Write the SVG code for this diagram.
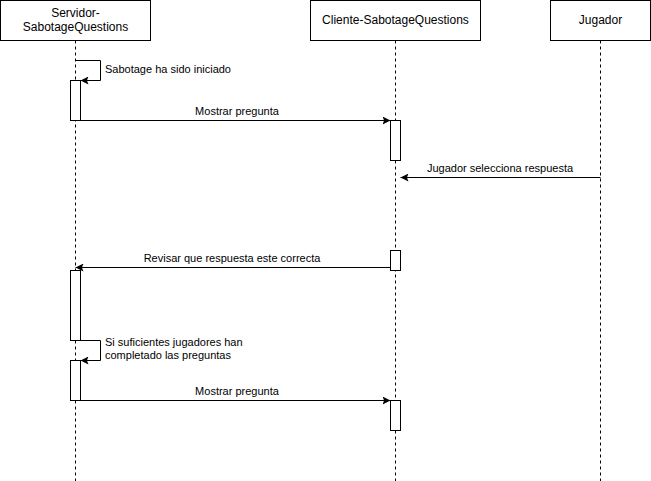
<svg xmlns="http://www.w3.org/2000/svg" width="651" height="481" viewBox="0 0 651 481">
<style>
.box{fill:#fff;stroke:#000;stroke-width:1}
.life{stroke:#000;stroke-dasharray:3 3;fill:none}
.msg{stroke:#000;fill:none}
.hdr{font-family:"Liberation Sans",Arial,sans-serif;font-size:12px;fill:#000;text-anchor:middle}
.lbl{font-family:"Liberation Sans",Arial,sans-serif;font-size:11px;fill:#000}
</style>
<defs>
<marker id="arr" viewBox="0 0 10 10" refX="10" refY="5" markerWidth="8" markerHeight="8" markerUnits="userSpaceOnUse" orient="auto">
<path d="M0,0 L10,5 L0,10 L2,5 Z" fill="#000"/>
</marker>
</defs>
<g id="servidor">
<rect class="box" x="0.5" y="0.5" width="150" height="40"/>
<text class="hdr" x="75.5" y="17">Servidor-</text>
<text class="hdr" x="75.5" y="31">SabotageQuestions</text>
<line class="life" x1="75.5" y1="40.5" x2="75.5" y2="481"/>
<rect class="box" x="70.5" y="80.5" width="10" height="40"/>
<rect class="box" x="70.5" y="270.5" width="10" height="70"/>
<rect class="box" x="70.5" y="360.5" width="10" height="40"/>
</g>
<g id="cliente">
<rect class="box" x="310.5" y="0.5" width="170" height="40"/>
<text class="hdr" x="395.5" y="24">Cliente-SabotageQuestions</text>
<line class="life" x1="395.5" y1="40.5" x2="395.5" y2="481"/>
<rect class="box" x="390.5" y="120.5" width="10" height="40"/>
<rect class="box" x="390.5" y="250.5" width="10" height="20"/>
<rect class="box" x="390.5" y="400.5" width="10" height="30"/>
</g>
<g id="jugador">
<rect class="box" x="550.5" y="0.5" width="100" height="40"/>
<text class="hdr" x="600.5" y="24">Jugador</text>
<line class="life" x1="600.5" y1="40.5" x2="600.5" y2="481"/>
</g>
<g id="connectors">
<path class="msg" d="M75.5,60.5 H100.5 V80.5 H80.5" marker-end="url(#arr)"/>
<text class="lbl" x="105" y="73">Sabotage ha sido iniciado</text>
<line class="msg" x1="80.5" y1="120.5" x2="390.5" y2="120.5" marker-end="url(#arr)"/>
<text class="lbl" x="237" y="115" text-anchor="middle">Mostrar pregunta</text>
<line class="msg" x1="600.5" y1="177.5" x2="400.5" y2="177.5" marker-end="url(#arr)"/>
<text class="lbl" x="500" y="172" text-anchor="middle">Jugador selecciona respuesta</text>
<line class="msg" x1="390.5" y1="267.5" x2="75.5" y2="267.5" marker-end="url(#arr)"/>
<text class="lbl" x="232" y="262" text-anchor="middle">Revisar que respuesta este correcta</text>
<path class="msg" d="M80.5,340.5 H100.5 V360.5 H80.5" marker-end="url(#arr)"/>
<text class="lbl" x="105" y="346">Si suficientes jugadores han</text>
<text class="lbl" x="105" y="359">completado las preguntas</text>
<line class="msg" x1="80.5" y1="400.5" x2="390.5" y2="400.5" marker-end="url(#arr)"/>
<text class="lbl" x="237" y="395" text-anchor="middle">Mostrar pregunta</text>
</g>
</svg>
